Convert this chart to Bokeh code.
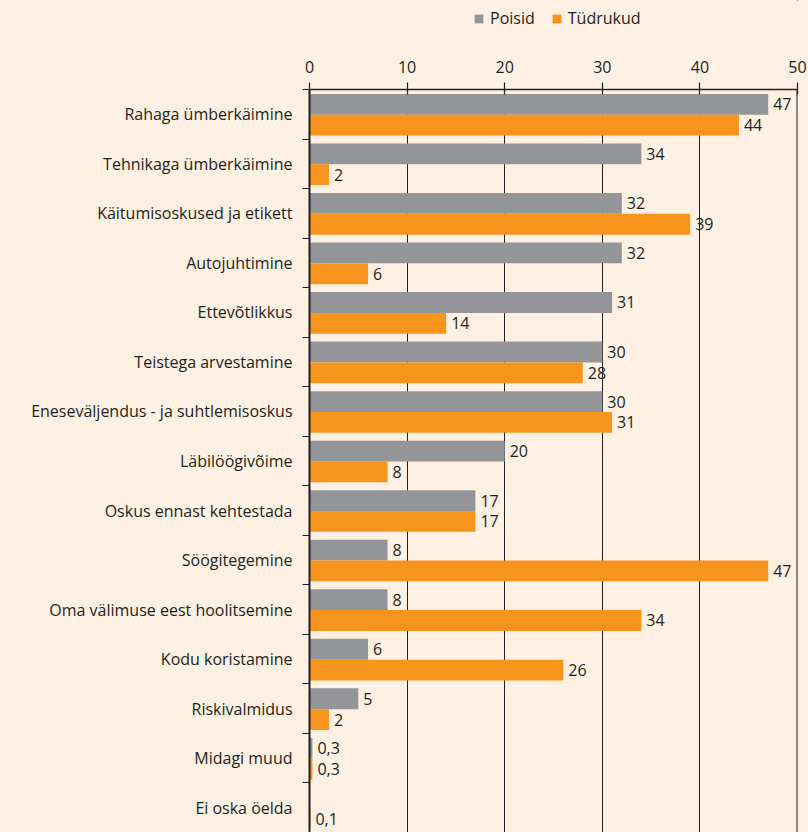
from bokeh.plotting import figure
from bokeh.layouts import column
from bokeh.models import (Range1d, FixedTicker, Legend, LegendItem,
                          ColumnDataSource, Span)
from bokeh.core.properties import value
from bokeh.embed import file_html
from bokeh.resources import INLINE

categories = [
    "Rahaga ümberkäimine",
    "Tehnikaga ümberkäimine",
    "Käitumisoskused ja etikett",
    "Autojuhtimine",
    "Ettevõtlikkus",
    "Teistega arvestamine",
    "Eneseväljendus - ja suhtlemisoskus",
    "Läbilöögivõime",
    "Oskus ennast kehtestada",
    "Söögitegemine",
    "Oma välimuse eest hoolitsemine",
    "Kodu koristamine",
    "Riskivalmidus",
    "Midagi muud",
    "Ei oska öelda",
]
poisid = [47, 34, 32, 32, 31, 30, 30, 20, 17, 8, 8, 6, 5, 0.3, None]
tudrukud = [44, 2, 39, 6, 14, 28, 31, 8, 17, 47, 34, 26, 2, 0.3, 0.1]
x_ticks = [0, 10, 20, 30, 40, 50]
series_names = ["Poisid", "Tüdrukud"]

BG = "#fef0e2"
TXT = "#231f20"
GRAY = "#939598"
ORANGE = "#f7941d"
FONT = "Open Sans"
FS = "16px"


def fmt(v):
    return ("%g" % v).replace(".", ",")


n = len(categories)
centers = [i + 0.5 for i in range(n)]


def make_src(vals, off):
    ys, xs, labels = [], [], []
    for i, v in enumerate(vals):
        if v is None:
            continue
        ys.append(i + off)
        xs.append(v)
        labels.append(fmt(v))
    return ColumnDataSource(dict(y=ys, x=xs, label=labels))


src_p = make_src(poisid, 0.30)
src_t = make_src(tudrukud, 0.72)

# ---------------- legend strip (top) ----------------
# The strip reuses the chart's sources but shows a range where no bar lies,
# so only the legend is visible in it.
LH = 34
leg = figure(width=808, height=LH, output_backend="svg", toolbar_location=None,
             x_range=Range1d(-2, -1), y_range=Range1d(-2, -1),
             x_axis_location=None, y_axis_location=None,
             min_border=0)
leg.background_fill_color = BG
leg.border_fill_color = BG
leg.outline_line_color = None
leg.grid.grid_line_color = None
lr_p = leg.hbar(y="y", right="x", left=0, height=0.42, source=src_p,
                fill_color=GRAY, line_color=None)
lr_t = leg.hbar(y="y", right="x", left=0, height=0.42, source=src_t,
                fill_color=ORANGE, line_color=None)
legend = Legend(items=[LegendItem(label=series_names[0], renderers=[lr_p]),
                       LegendItem(label=series_names[1], renderers=[lr_t])],
                orientation="horizontal", location=(164, 5),
                glyph_width=11, glyph_height=11, label_standoff=6, spacing=16,
                padding=0, margin=0,
                label_text_font=FONT, label_text_font_size=FS,
                label_text_color=TXT, label_height=18,
                border_line_color=None, background_fill_alpha=0)
leg.add_layout(legend)

# ---------------- main chart ----------------
FW, FH = 488, 743
p = figure(frame_width=FW, frame_height=FH, output_backend="svg",
           toolbar_location=None,
           x_range=Range1d(0, 50), y_range=Range1d(n, 0),
           x_axis_location="above",
           min_border_left=309, min_border_right=11, min_border_top=89 - LH,
           min_border_bottom=0)
p.background_fill_color = BG
p.border_fill_color = BG
p.outline_line_color = None

p.hbar(y="y", right="x", left=0, height=0.42, source=src_p,
       fill_color=GRAY, line_color=None)
p.hbar(y="y", right="x", left=0, height=0.42, source=src_t,
       fill_color=ORANGE, line_color=None)

for src in (src_p, src_t):
    p.text(x="x", y="y", text="label", source=src, x_offset=5,
           text_align="left", text_baseline="middle",
           text_font=value(FONT), text_font_size=FS, text_color=TXT)

# x axis (top)
xa = p.xaxis[0]
xa.ticker = FixedTicker(ticks=x_ticks)
xa.major_tick_out = 7
xa.major_tick_in = 5
xa.minor_tick_line_color = None
xa.axis_line_color = TXT
xa.axis_line_width = 1.5
xa.major_tick_line_color = TXT
xa.major_tick_line_width = 1.2
xa.major_label_text_font = FONT
xa.major_label_text_font_size = FS
xa.major_label_text_color = TXT
xa.major_label_standoff = 10

# y axis (left)
ya = p.yaxis[0]
ya.ticker = FixedTicker(ticks=centers, minor_ticks=list(range(n + 1)))
ya.major_label_overrides = {c: name for c, name in zip(centers, categories)}
ya.major_tick_out = 0
ya.major_tick_in = 0
ya.major_tick_line_color = None
ya.minor_tick_out = 7
ya.minor_tick_in = 0
ya.minor_tick_line_color = TXT
ya.minor_tick_line_width = 1.2
ya.axis_line_color = TXT
ya.axis_line_width = 2
ya.major_label_text_font = FONT
ya.major_label_text_font_size = FS
ya.major_label_text_color = TXT
ya.major_label_standoff = 10

p.ygrid.grid_line_color = None
p.xgrid.ticker = FixedTicker(ticks=x_ticks)
p.xgrid.grid_line_color = TXT
p.xgrid.grid_line_width = 1

p.add_layout(Span(location=50, dimension="height", line_color=TXT, line_width=2))

layout = column(leg, p, spacing=0)
layout.styles = {"background-color": BG}

open("out.html", "w").write(file_html(layout, INLINE))
